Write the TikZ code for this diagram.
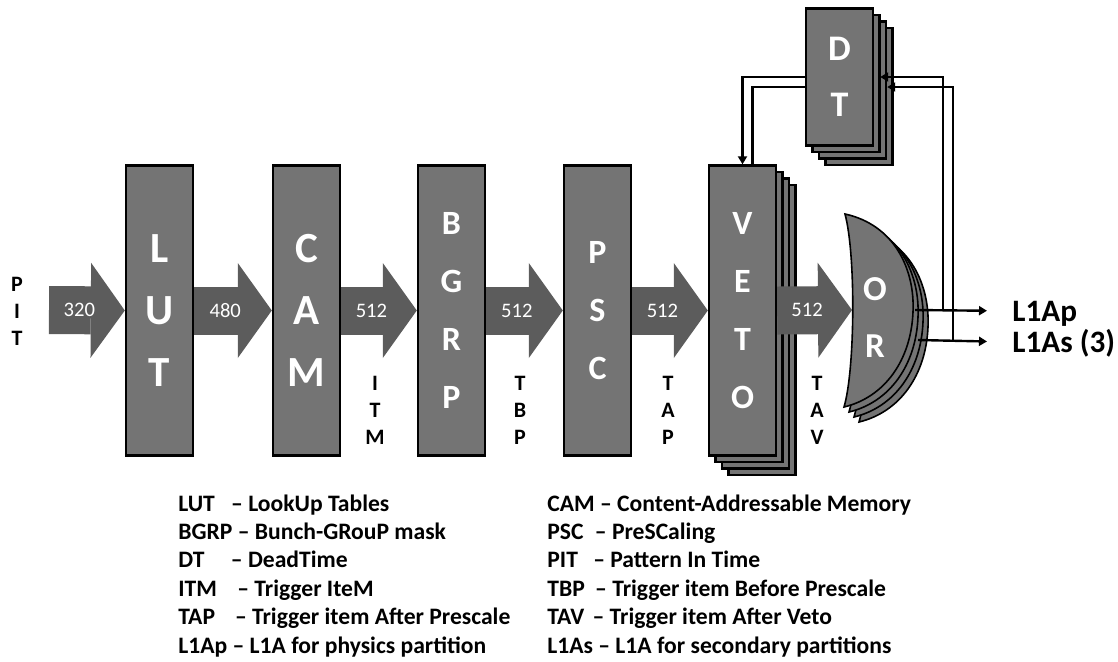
\documentclass[tikz,border=0pt]{standalone}
\usepackage{fontspec}
\setmainfont{Carlito}
\usetikzlibrary{arrows.meta,positioning,calc,shadows}
\definecolor{blockgray}{RGB}{116,116,116}
\definecolor{busgray}{RGB}{92,92,92}
\tikzset{
  glyphs/.style={text=white,align=center,font=\fontsize{17}{29}\selectfont\bfseries},
  bigglyphs/.style={font=\fontsize{21.5}{31}\selectfont\bfseries},
  blk/.style={glyphs,draw=black,line width=1.2pt,fill=blockgray,minimum width=33.5pt,
    minimum height=145pt,inner sep=0pt},
  stack/.style={
    copy shadow={shadow xshift=9.75pt,shadow yshift=-9.75pt,fill=blockgray,draw=black},
    copy shadow={shadow xshift=6.5pt,shadow yshift=-6.5pt,fill=blockgray,draw=black},
    copy shadow={shadow xshift=3.25pt,shadow yshift=-3.25pt,fill=blockgray,draw=black}},
  bus/.style={draw=busgray,line width=24pt,
    -{Triangle[length=17pt,width=47.5pt,line width=0pt]}},
  num/.style={text=white,font=\fontsize{10.3}{12}\selectfont},
  tag/.style={inner sep=0pt,align=center,font=\fontsize{11}{13.5}\selectfont\bfseries},
  fb/.style={line width=1.2pt},
  fbarr/.style={fb,-{Triangle[length=4pt,width=4.5pt]}},
  orgate/.style={draw=black,line width=0.8pt,fill=blockgray},
  outlbl/.style={anchor=west,inner sep=0pt,text height=10pt,text depth=0pt,
    font=\fontsize{15.6}{18}\selectfont\bfseries},
  lgd/.style={anchor=base west,inner sep=0pt,font=\fontsize{11.8}{14}\selectfont\bfseries},
}
% abbreviation, extra gap, meaning
\newcommand{\lgdentry}[3][0pt]{#2\ \hspace{#1}– #3}

\begin{document}
\begin{tikzpicture}[x=0.5pt,y=-0.5pt]
  \useasboundingbox (0,0) rectangle (1118,661);

  % processing blocks
  \node[blk,bigglyphs] (lut) at (159.5,310.5) {L\\U\\T};
  \node[blk,bigglyphs] (cam) at (306.5,310.5) {C\\A\\M};
  \node[blk] (bgrp) at (451.5,310.5) {B\\G\\R\\P};
  \node[blk] (psc) at (597.5,310.5) {P\\S\\C};
  \node[blk,stack] (veto) at (742.5,310.5) {V\\E\\T\\O};
  \node[blk,stack,minimum height=68.5pt,font=\fontsize{18}{28}\selectfont\bfseries] (dt) at (839.5,77) {D\\T};

  \coordinate (pitin) at (49,310);
  \coordinate (orin) at (852,310);

  % data buses
  \draw[bus] (pitin) -- node[num,pos=0.4] {320} (lut.west);
  \draw[bus] (lut.east) -- node[num,pos=0.4] {480} (cam.west);
  \draw[bus] (cam.east) -- node[num,pos=0.4] {512} (bgrp.west);
  \draw[bus] (bgrp.east) -- node[num,pos=0.4] {512} (psc.west);
  \draw[bus] (psc.east) -- node[num,pos=0.4] {512} (veto.west);
  \draw[bus] (veto.east) -- node[num,pos=0.4] {512} (orin);

  % OR stack
  \foreach \d in {15,10,5,0}
    \draw[orgate,shift={(\d,\d)}] (845,214) .. controls (895,225) and (915,270) .. (913,312)
      .. controls (911,360) and (885,397) .. (844,407)
      .. controls (855,370) and (856,255) .. (845,214) -- cycle;
  \node[glyphs,font=\fontsize{17.5}{28.5}\selectfont\bfseries] (ortxt) at (875,318) {O\\R};

  % bus names
  \node[tag] (pit) at (17,311) {P\\I\\T};
  \node[tag] (itm) at (375,410) {I\\T\\M};
  \node[tag] (tbp) at (520,410) {T\\B\\P};
  \node[tag] (tap) at (668,410) {T\\A\\P};
  \node[tag] (tav) at (817,410) {T\\A\\V};

  % outputs and dead-time feedback
  \coordinate (orout1) at (915,310);
  \coordinate (orout2) at (918,340);
  \coordinate (tap1) at (943,310);
  \coordinate (tap2) at (953,340);
  \node[outlbl] (l1ap) at (1012,311) {L1Ap};
  \node[outlbl] (l1as) at (1012,342) {L1As (3)};
  \draw[fbarr,shorten >=12.5pt] (orout1) -- (l1ap.west);
  \draw[fbarr,shorten >=12.5pt] (orout2) -- (l1as.west);
  \draw[fbarr] (tap1) |- ([xshift=3pt]dt.east);
  \draw[fbarr] (tap2) |- ([xshift=6.5pt,yshift=-5pt]dt.east);
  \draw[fbarr] (dt.west) -| (veto.north);
  \draw[fb] ([yshift=-5pt]dt.west) -| ([xshift=5pt]veto.north);

  % legend
  \node[lgd] (lg1) at (178,511) {\lgdentry[5.5pt]{LUT}{LookUp Tables}};
  \node[lgd] (lg2) at (178,539.4) {\lgdentry{BGRP}{Bunch-GRouP mask}};
  \node[lgd] (lg3) at (178,567.8) {\lgdentry[10.5pt]{DT}{DeadTime}};
  \node[lgd] (lg4) at (178,596.2) {\lgdentry[7.5pt]{ITM}{Trigger IteM}};
  \node[lgd] (lg5) at (178,624.6) {\lgdentry[7.3pt]{TAP}{Trigger item After Prescale}};
  \node[lgd] (lg6) at (178,653) {\lgdentry{L1Ap}{L1A for physics partition}};
  \node[lgd] (lg7) at (547,511) {\lgdentry{CAM}{Content-Addressable Memory}};
  \node[lgd] (lg8) at (547,539.4) {\lgdentry[3pt]{PSC}{PreSCaling}};
  \node[lgd] (lg9) at (547,567.8) {\lgdentry[5pt]{PIT}{Pattern In Time}};
  \node[lgd] (lg10) at (547,596.2) {\lgdentry[2.5pt]{TBP}{Trigger item Before Prescale}};
  \node[lgd] (lg11) at (547,624.6) {\lgdentry[1.5pt]{TAV}{Trigger item After Veto}};
  \node[lgd] (lg12) at (547,653) {\lgdentry{L1As}{L1A for secondary partitions}};
\end{tikzpicture}
\end{document}
